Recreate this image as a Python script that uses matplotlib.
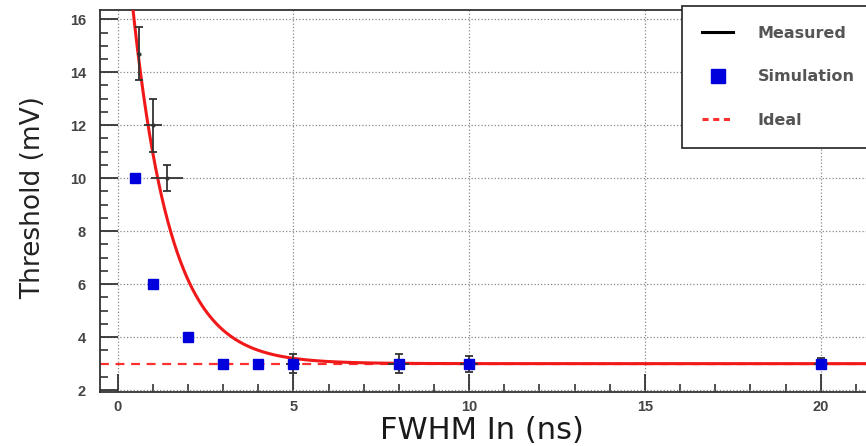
import numpy as np
import matplotlib.pyplot as plt
from matplotlib.lines import Line2D

plt.rcParams['font.family'] = ['Liberation Sans', 'DejaVu Sans']
plt.rcParams['xtick.direction'] = 'in'
plt.rcParams['ytick.direction'] = 'in'

# simulated thresholds
sim_fwhm = [0.5, 1, 2, 3, 4, 5, 8, 10, 20]
sim_thr = [10, 6, 4, 3, 3, 3, 3, 3, 3]

# measured thresholds with errors
meas_fwhm = [0.6, 1.0, 1.4, 5, 8, 10, 20]
meas_thr = [14.7, 12.0, 10.0, 3.0, 3.0, 3.0, 3.0]
meas_xerr = [0.05, 0.25, 0.45, 0.2, 0.3, 0.25, 0.2]
meas_yerr = [1.0, 1.0, 0.5, 0.35, 0.35, 0.3, 0.2]

# exponential fit to the measured points: thr = plateau + A * exp(-fwhm / tau)
FIT_PLATEAU = 3.0
FIT_A = 20.0
FIT_TAU = 1.087
IDEAL_THR = 3.0

fig = plt.figure(figsize=(8.66, 4.46), dpi=100)
W, H = 866, 446
# frame runs past the right edge of the canvas
ax = fig.add_axes([100 / W, 1 - 392 / H, 791 / W, 382 / H])
ax.set_xlim(-0.5, 22)
ax.set_ylim(1.93, 16.35)

xf = np.linspace(0.3, 22, 500)
yf = FIT_PLATEAU + FIT_A * np.exp(-xf / FIT_TAU)

ax.axhline(IDEAL_THR, color='#ff3030', lw=1.6, ls=(0, (4, 3)), zorder=2)
ax.plot(xf, yf, color='#f01818', lw=2.2, zorder=3)

ax.errorbar(meas_fwhm, meas_thr, yerr=meas_yerr, fmt='none', ecolor='#333333',
            elinewidth=1.3, capsize=3, capthick=1.3, zorder=4)
ax.errorbar(meas_fwhm, meas_thr, xerr=meas_xerr, fmt='o', ms=2, color='#333333',
            ecolor='#333333', elinewidth=1.3, capsize=0, zorder=4)
ax.plot(sim_fwhm, sim_thr, 's', ms=7, color='#0000dd', mec='#0000dd', zorder=5)

ax.set_xticks([0, 5, 10, 15, 20])
ax.set_xticks(np.arange(0, 23, 1), minor=True)
ax.set_yticks(np.arange(2, 17, 2))
ax.set_yticks(np.arange(2, 16.5, 0.5), minor=True)
ax.tick_params(which='major', length=13, width=1.3, color='#333333',
               labelsize=10.5, labelcolor='#444444')
ax.tick_params(axis='x', which='major', pad=6)
ax.tick_params(axis='y', which='major', pad=10)
ax.tick_params(which='minor', length=6, width=1.2, color='#333333')
for lab in ax.get_xticklabels() + ax.get_yticklabels():
    lab.set_fontweight('bold')

ax.grid(True, which='major', ls=':', color='#888888', lw=0.9)
for s in ax.spines.values():
    s.set_color('#333333')
    s.set_linewidth(1.3)

ax.set_xlabel('FWHM In (ns)', fontsize=22, family='DejaVu Sans', color='#1a1a1a')
ax.xaxis.set_label_coords(382 / 791, -24 / 382)
ax.set_ylabel('Threshold (mV)', fontsize=19, family='DejaVu Sans', color='#222222')
ax.yaxis.set_label_coords(-54 / 791, 0.51)

handles = [
    Line2D([], [], color='black', lw=2.2),
    Line2D([], [], marker='s', ls='none', ms=10.5, color='#0000dd'),
    Line2D([], [], color='#ff3030', lw=2.2, ls=(0, (2, 1.5))),
]
leg = fig.legend(handles, ['Measured', 'Simulation', 'Ideal'],
                 loc='upper left', bbox_to_anchor=(682 / W, 1 - 10 / H, 250 / W, 0.01),
                 mode='expand', fancybox=False, framealpha=1, edgecolor='#222222',
                 prop={'family': 'DejaVu Sans', 'weight': 'bold', 'size': 11.5},
                 labelspacing=1.8, handlelength=1.95, handletextpad=1.55,
                 borderpad=1.25, borderaxespad=0)
leg.get_frame().set_linewidth(1.2)
for t in leg.get_texts():
    t.set_color('#555555')

fig.savefig('out.png', dpi=100)
